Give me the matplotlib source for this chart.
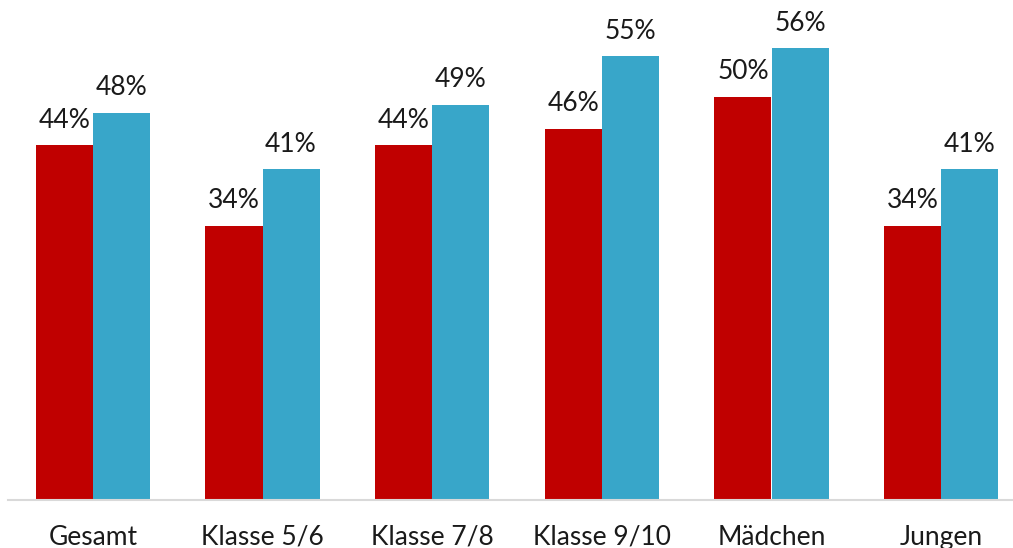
import matplotlib
matplotlib.use("Agg")
import matplotlib.pyplot as plt
import numpy as np

categories = ["Gesamt", "Klasse 5/6", "Klasse 7/8", "Klasse 9/10", "Mädchen", "Jungen"]
series_red = [44, 34, 44, 46, 50, 34]
series_blue = [48, 41, 49, 55, 56, 41]

RED = "#C00000"
BLUE = "#38A6C9"

plt.rcParams["font.family"] = ["Lato", "DejaVu Sans"]

W, H = 1013, 548
fig = plt.figure(figsize=(W / 100, H / 100), dpi=100)
left_px, right_px = 8.0, 1026.0
base_px, top_px = 500.0, 16.0
ax = fig.add_axes([left_px / W, (H - base_px) / H,
                   (right_px - left_px) / W, (base_px - top_px) / H])

x = np.arange(len(categories))
bw = 0.336
ax.bar(x - bw / 2, series_red, width=bw, color=RED, linewidth=0)
ax.bar(x + bw / 2, series_blue, width=bw, color=BLUE, linewidth=0)

for xi, v in zip(x, series_red):
    ax.annotate(f"{v}%", (xi - bw / 2, v), xytext=(0, 9), textcoords="offset points",
                ha="center", va="bottom", fontsize=19, color="#1a1a1a")
for xi, v in zip(x, series_blue):
    ax.annotate(f"{v}%", (xi + bw / 2, v), xytext=(0, 9), textcoords="offset points",
                ha="center", va="bottom", fontsize=19, color="#1a1a1a")

ax.set_xlim(-0.5, len(categories) - 0.5)
ax.set_ylim(0, 60)
ax.set_xticks(x)
ax.set_xticklabels(categories, fontsize=19, color="#1a1a1a")
ax.tick_params(axis="x", length=0, pad=18)
ax.set_yticks([])
for s in ["top", "right", "left"]:
    ax.spines[s].set_visible(False)
ax.spines["bottom"].set_color("#D9D9D9")
ax.spines["bottom"].set_linewidth(1.5)

fig.savefig("out.png", dpi=100)
